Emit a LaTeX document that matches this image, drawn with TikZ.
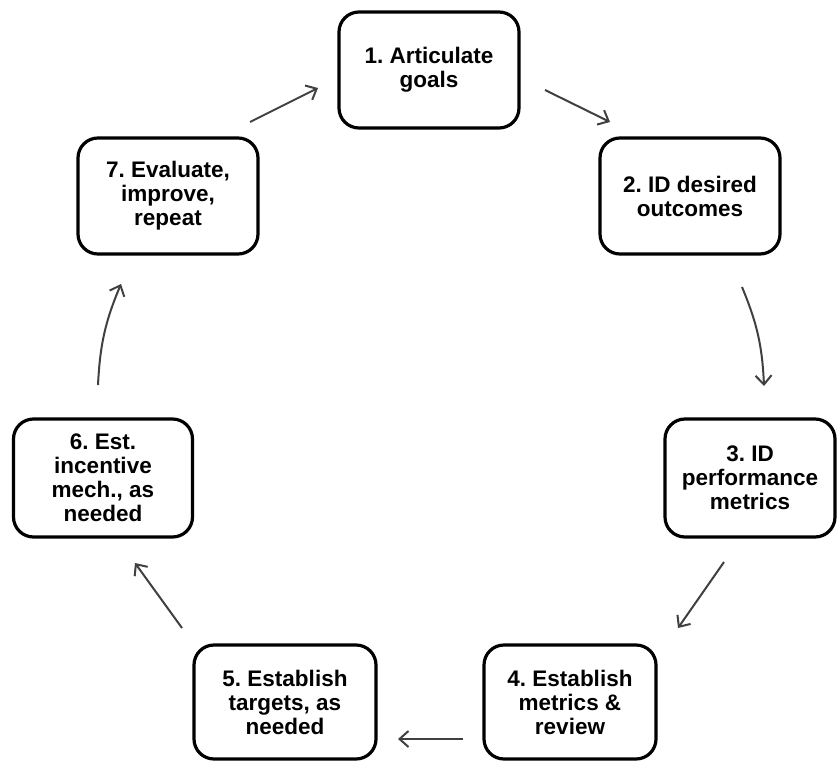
\documentclass[tikz,border=0pt]{standalone}
\usepackage{fontspec}
\setmainfont{Liberation Sans}
\usetikzlibrary{arrows.meta}
\begin{document}
\frenchspacing
\begin{tikzpicture}[x=1pt,y=-1pt,
  stepbox/.style={draw=black,line width=3.2pt,rounded corners=20pt,align=center,
    font=\fontsize{22.5}{24}\selectfont\bfseries\frenchspacing,inner sep=0pt},
  flow/.style={draw=black!75,line width=2pt,-{Straight Barb[length=9pt,width=16pt,line width=2pt]}}]
\useasboundingbox (0,0) rectangle (837,762);
\node[stepbox,minimum width=180pt,minimum height=116pt] (s1) at (429,70) {1. Articulate\\goals};
\node[stepbox,minimum width=180pt,minimum height=116pt] (s2) at (690,196) {2. ID desired\\outcomes};
\node[stepbox,minimum width=170pt,minimum height=118pt] (s3) at (750,478) {3. ID\\performance\\metrics};
\node[stepbox,minimum width=172pt,minimum height=114pt] (s4) at (570,702) {4. Establish\\metrics \&\\review};
\node[stepbox,minimum width=182pt,minimum height=114pt] (s5) at (285,702) {5. Establish\\targets, as\\needed};
\node[stepbox,minimum width=179pt,minimum height=118pt] (s6) at (103,478) {6. Est.\\incentive\\mech., as\\needed};
\node[stepbox,minimum width=180pt,minimum height=116pt] (s7) at (168,196) {7. Evaluate,\\improve,\\repeat};
\coordinate (a71) at (250,122); \coordinate (b71) at (318,88);
\coordinate (a12) at (545,90);  \coordinate (b12) at (610,122);
\coordinate (a23) at (742,287); \coordinate (b23) at (764,386);
\coordinate (a34) at (724,562); \coordinate (b34) at (678,628);
\coordinate (a45) at (463,739); \coordinate (b45) at (398,739);
\coordinate (a56) at (182,628); \coordinate (b56) at (135,563);
\coordinate (a67) at (98,385);  \coordinate (b67) at (121,284);
\draw[flow] (a71) -- (b71);
\draw[flow] (a12) -- (b12);
\draw[flow] (a23) to[bend left=10] (b23);
\draw[flow] (a34) -- (b34);
\draw[flow] (a45) -- (b45);
\draw[flow] (a56) -- (b56);
\draw[flow] (a67) to[bend left=10] (b67);
\end{tikzpicture}
\end{document}
